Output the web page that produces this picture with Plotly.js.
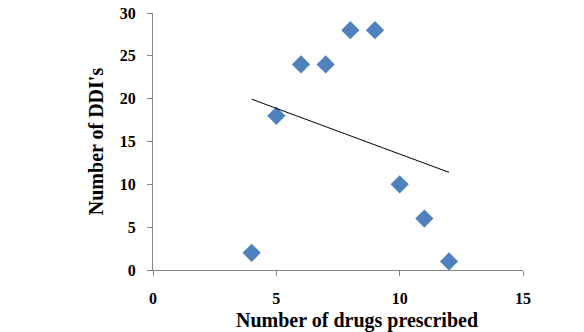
<!DOCTYPE html>
<html><head><meta charset="utf-8">
<script src="https://cdn.plot.ly/plotly-3.0.1.min.js"></script>
<style>html,body{margin:0;padding:0;background:#fff}#chart{width:584px;height:332px}</style>
</head><body><div id="chart"></div>
<script>
const drugs = [4, 5, 6, 7, 8, 9, 10, 11, 12];
const ddis = [2, 18, 24, 24, 28, 28, 10, 6, 1];
const xTicks = [0, 5, 10, 15];
const yTicks = [0, 5, 10, 15, 20, 25, 30];
const xTitle = 'Number of drugs prescribed';
const yTitle = "Number of DDI's";

// linear trendline (least squares) from the data
const n = drugs.length;
const mx = drugs.reduce((a,b)=>a+b,0)/n;
const my = ddis.reduce((a,b)=>a+b,0)/n;
let sxy=0,sxx=0;
for(let i=0;i<n;i++){sxy+=(drugs[i]-mx)*(ddis[i]-my);sxx+=(drugs[i]-mx)**2;}
const slope=sxy/sxx, icpt=my-slope*mx;
const tx=[Math.min(...drugs), Math.max(...drugs)];
const ty=tx.map(x=>icpt+slope*x);

const font = {family:'"Liberation Serif","DejaVu Serif",serif', color:'#000'};
const data = [
 {x:drugs, y:ddis, type:'scatter', mode:'markers', name:'DDIs',
  marker:{symbol:'diamond', size:14, color:'#4F81BD'}},
 {x:tx, y:ty, type:'scatter', mode:'lines', name:'Linear',
  line:{color:'#000', width:1}}
];
const axisCommon = {showgrid:false, zeroline:false, showline:true, linecolor:'#868686', linewidth:1,
  ticks:'outside', ticklen:5, tickcolor:'#868686', tickfont:Object.assign({size:16, weight:'bold'}, font)};
const layout = {
 width:584, height:332, margin:{l:153, r:61, t:13, b:62},
 paper_bgcolor:'#fff', plot_bgcolor:'#fff', showlegend:false,
 xaxis:Object.assign({}, axisCommon, {range:[0,15], tickvals:xTicks, ticklabelstandoff:9}),
 yaxis:Object.assign({}, axisCommon, {range:[0,30], tickvals:yTicks, ticklabelstandoff:8,
   title:{text:yTitle, font:Object.assign({size:20, weight:'bold'}, font), standoff:10}}),
 annotations:[{text:xTitle, xref:'paper', yref:'paper', x:0.552, y:-0.197, xanchor:'center', yanchor:'middle',
   showarrow:false, font:Object.assign({size:20, weight:'bold'}, font)}]
};
Plotly.newPlot('chart', data, layout, {displayModeBar:false, staticPlot:true});
</script></body></html>
